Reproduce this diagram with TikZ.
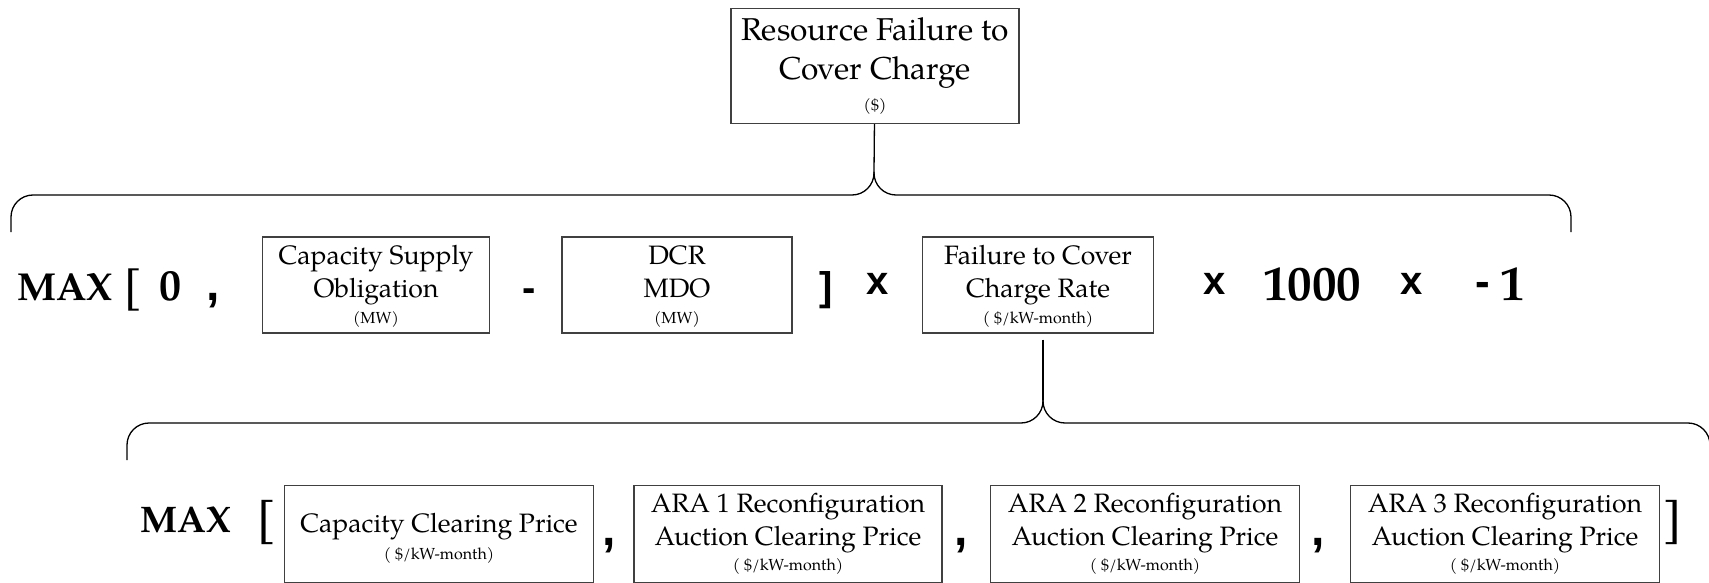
\documentclass[tikz,border=0pt]{standalone}
\usepackage{fontspec}
\setmainfont{TeX Gyre Pagella}
\setsansfont{Liberation Sans}
\newcommand{\unittext}[1]{{\fontsize{8}{9}\selectfont #1}}
\tikzset{term/.style={draw=black!75, line width=0.6pt, align=center, inner sep=0pt,
    font=\fontsize{13.3}{16.3}\selectfont},
    big/.style={inner sep=0pt, anchor=base, font=\bfseries\fontsize{#1}{#1}\selectfont},
    big/.default={20},
    op/.style={inner sep=0pt, anchor=base, font=\sffamily\bfseries\fontsize{#1}{#1}\selectfont},
    op/.default={20},
    brace/.style={line width=0.65pt, rounded corners=11pt},
    link/.style={line width=0.65pt},
}
\begin{document}
\begin{tikzpicture}[x=0.5pt,y=-0.5pt]
\useasboundingbox (0,0) rectangle (1709,583);
\node[term, minimum width=144pt, minimum height=57.5pt, font=\fontsize{15.8}{19.5}\selectfont] (top) at (875,66) {Resource Failure to\\Cover Charge\\[-4pt]\unittext{(\$)}}; % total charge
% first line
\node[big=19.5] (max1) at (65,300) {MAX};
\node[big=21] (lbr1) at (133,300) {[};
\node[big=22] (zero) at (170,300) {0};
\node[op=24] (comma1) at (213,300) {,};
\node[term, minimum width=113.5pt, minimum height=48pt] (cso) at (376,285) {\rule{0pt}{11pt}Capacity Supply\\Obligation\\[-3.5pt]\unittext{(MW)}};
\node[op] (minus) at (529,301) {-};
\node[term, minimum width=115pt, minimum height=48pt] (dcr) at (677,285) {\rule{0pt}{11pt}DCR\\MDO\\[-3.5pt]\unittext{(MW)}};
\node[op=20] (rbr1) at (826,300) {]};
\node[op] (times1) at (878,294) {x};
\node[term, minimum width=115.5pt, minimum height=48pt] (ftc) at (1038,285) {\rule{0pt}{11pt}Failure to Cover\\Charge Rate\\[-3.5pt]\unittext{( \$/kW-month)}};
\node[op] (times2) at (1215,294) {x};
\node[big=24.5] (thousand) at (1312,300) {1000};
\node[op] (times3) at (1412,294) {x};
\node[op=22] (neg) at (1483,296) {-};
\node[big=24.5] (one) at (1513,300) {1};
% second line
\node[big=18.5] (max2) at (186,532) {MAX};
\node[big=22] (lbr2) at (267,533) {[};
\node[term, minimum width=154.5pt, minimum height=48.5pt] (ccp) at (439,534) {\rule{0pt}{14pt}Capacity Clearing Price\\[-3pt]\unittext{( \$/kW-month)}};
\node[op=24] (comma2) at (609,545) {,};
\node[term, minimum width=154pt, minimum height=48.5pt] (ara1) at (788,534) {ARA 1 Reconfiguration\\Auction Clearing Price\\[-3.5pt]\unittext{( \$/kW-month)}};
\node[op=24] (comma3) at (961,545) {,};
\node[term, minimum width=154.5pt, minimum height=48.5pt] (ara2) at (1145,534) {ARA 2 Reconfiguration\\Auction Clearing Price\\[-3.5pt]\unittext{( \$/kW-month)}};
\node[op=24] (comma4) at (1318,545) {,};
\node[term, minimum width=154.5pt, minimum height=48.5pt] (ara3) at (1505,534) {ARA 3 Reconfiguration\\Auction Clearing Price\\[-3.5pt]\unittext{( \$/kW-month)}};
\node[big=22] (rbr2) at (1673,533) {]};
% braces
\coordinate (tipA) at (874,172);
\draw[brace] (11,232) |- (874,195) -- (tipA); % upper brace, left half
\draw[brace] (tipA) -- (874,195) -| (1571,232); % upper brace, right half
\draw[link] (top) -- (tipA);
\coordinate (tipB) at (1043,400);
\draw[brace] (127,460) |- (1043,423) -- (tipB); % lower brace, left half
\draw[brace] (tipB) -- (1043,423) -| (1710,460); % lower brace, right half
\draw[link] ([yshift=-3pt]ftc.south -| tipB) -- (tipB);
\end{tikzpicture}
\end{document}
